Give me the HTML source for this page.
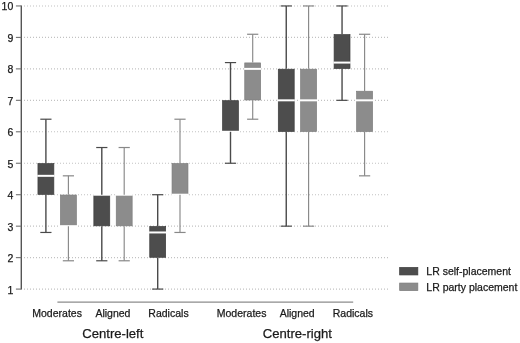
<!DOCTYPE html>
<html><head><meta charset="utf-8"><title>Box plot</title>
<style>html,body{margin:0;padding:0;background:#fff;overflow:hidden;}body{width:520px;height:343px;position:relative;font-family:"Liberation Sans",sans-serif;}</style>
</head><body>
<svg width="520" height="343" viewBox="0 0 520 343" style="position:absolute;left:0;top:0;will-change:transform;font-family:'Liberation Sans',sans-serif;">
<rect width="520" height="343" fill="#ffffff"/>
<line x1="24" x2="388.2" y1="289.09" y2="289.09" stroke="#c2c2c2" stroke-width="1.1" stroke-dasharray="1 2"/>
<line x1="24" x2="388.2" y1="257.63" y2="257.63" stroke="#c2c2c2" stroke-width="1.1" stroke-dasharray="1 2"/>
<line x1="24" x2="388.2" y1="226.17" y2="226.17" stroke="#c2c2c2" stroke-width="1.1" stroke-dasharray="1 2"/>
<line x1="24" x2="388.2" y1="194.71" y2="194.71" stroke="#c2c2c2" stroke-width="1.1" stroke-dasharray="1 2"/>
<line x1="24" x2="388.2" y1="163.25" y2="163.25" stroke="#c2c2c2" stroke-width="1.1" stroke-dasharray="1 2"/>
<line x1="24" x2="388.2" y1="131.79" y2="131.79" stroke="#c2c2c2" stroke-width="1.1" stroke-dasharray="1 2"/>
<line x1="24" x2="388.2" y1="100.33" y2="100.33" stroke="#c2c2c2" stroke-width="1.1" stroke-dasharray="1 2"/>
<line x1="24" x2="388.2" y1="68.87" y2="68.87" stroke="#c2c2c2" stroke-width="1.1" stroke-dasharray="1 2"/>
<line x1="24" x2="388.2" y1="37.41" y2="37.41" stroke="#c2c2c2" stroke-width="1.1" stroke-dasharray="1 2"/>
<line x1="24" x2="388.2" y1="5.95" y2="5.95" stroke="#c2c2c2" stroke-width="1.1" stroke-dasharray="1 2"/>
<line x1="21.3" x2="21.3" y1="5.45" y2="289.59" stroke="#555" stroke-width="1.4"/>
<line x1="15.9" x2="21.3" y1="289.09" y2="289.09" stroke="#707070" stroke-width="1.1"/>
<text x="13.3" y="293.59" font-size="10.5" text-anchor="end" fill="#1a1a1a" stroke="#1a1a1a" stroke-width="0.25">1</text>
<line x1="15.9" x2="21.3" y1="257.63" y2="257.63" stroke="#707070" stroke-width="1.1"/>
<text x="13.3" y="262.13" font-size="10.5" text-anchor="end" fill="#1a1a1a" stroke="#1a1a1a" stroke-width="0.25">2</text>
<line x1="15.9" x2="21.3" y1="226.17" y2="226.17" stroke="#707070" stroke-width="1.1"/>
<text x="13.3" y="230.67" font-size="10.5" text-anchor="end" fill="#1a1a1a" stroke="#1a1a1a" stroke-width="0.25">3</text>
<line x1="15.9" x2="21.3" y1="194.71" y2="194.71" stroke="#707070" stroke-width="1.1"/>
<text x="13.3" y="199.21" font-size="10.5" text-anchor="end" fill="#1a1a1a" stroke="#1a1a1a" stroke-width="0.25">4</text>
<line x1="15.9" x2="21.3" y1="163.25" y2="163.25" stroke="#707070" stroke-width="1.1"/>
<text x="13.3" y="167.75" font-size="10.5" text-anchor="end" fill="#1a1a1a" stroke="#1a1a1a" stroke-width="0.25">5</text>
<line x1="15.9" x2="21.3" y1="131.79" y2="131.79" stroke="#707070" stroke-width="1.1"/>
<text x="13.3" y="136.29" font-size="10.5" text-anchor="end" fill="#1a1a1a" stroke="#1a1a1a" stroke-width="0.25">6</text>
<line x1="15.9" x2="21.3" y1="100.33" y2="100.33" stroke="#707070" stroke-width="1.1"/>
<text x="13.3" y="104.83" font-size="10.5" text-anchor="end" fill="#1a1a1a" stroke="#1a1a1a" stroke-width="0.25">7</text>
<line x1="15.9" x2="21.3" y1="68.87" y2="68.87" stroke="#707070" stroke-width="1.1"/>
<text x="13.3" y="73.37" font-size="10.5" text-anchor="end" fill="#1a1a1a" stroke="#1a1a1a" stroke-width="0.25">8</text>
<line x1="15.9" x2="21.3" y1="37.41" y2="37.41" stroke="#707070" stroke-width="1.1"/>
<text x="13.3" y="41.91" font-size="10.5" text-anchor="end" fill="#1a1a1a" stroke="#1a1a1a" stroke-width="0.25">9</text>
<line x1="15.9" x2="21.3" y1="5.95" y2="5.95" stroke="#707070" stroke-width="1.1"/>
<text x="13.3" y="10.45" font-size="10.5" text-anchor="end" fill="#1a1a1a" stroke="#1a1a1a" stroke-width="0.25">10</text>
<rect x="37.95" y="163.60" width="15.90" height="30.76" fill="#4d4d4d" stroke="#3c3c3c" stroke-width="0.7"/>
<line x1="37.30" x2="54.50" y1="175.83" y2="175.83" stroke="#ffffff" stroke-width="2"/>
<line x1="45.9" x2="45.9" y1="119.21" y2="163.25" stroke="#4a4a4a" stroke-width="1.4"/>
<line x1="45.9" x2="45.9" y1="194.71" y2="232.46" stroke="#4a4a4a" stroke-width="1.4"/>
<line x1="40.3" x2="51.5" y1="119.21" y2="119.21" stroke="#4a4a4a" stroke-width="1.2"/>
<line x1="40.3" x2="51.5" y1="232.46" y2="232.46" stroke="#4a4a4a" stroke-width="1.2"/>
<rect x="60.45" y="195.06" width="15.90" height="30.76" fill="#8c8c8c" stroke="#7c7c7c" stroke-width="0.7"/>
<line x1="59.80" x2="77.00" y1="226.17" y2="226.17" stroke="#ffffff" stroke-width="2"/>
<line x1="68.4" x2="68.4" y1="175.83" y2="194.71" stroke="#888888" stroke-width="1.15"/>
<line x1="68.4" x2="68.4" y1="226.17" y2="260.78" stroke="#888888" stroke-width="1.15"/>
<line x1="62.800000000000004" x2="74.0" y1="175.83" y2="175.83" stroke="#888888" stroke-width="1.2"/>
<line x1="62.800000000000004" x2="74.0" y1="260.78" y2="260.78" stroke="#888888" stroke-width="1.2"/>
<rect x="93.85" y="195.06" width="15.90" height="30.76" fill="#4d4d4d" stroke="#3c3c3c" stroke-width="0.7"/>
<line x1="93.20" x2="110.40" y1="194.71" y2="194.71" stroke="#ffffff" stroke-width="2"/>
<line x1="101.8" x2="101.8" y1="147.52" y2="194.71" stroke="#4a4a4a" stroke-width="1.4"/>
<line x1="101.8" x2="101.8" y1="226.17" y2="260.78" stroke="#4a4a4a" stroke-width="1.4"/>
<line x1="96.2" x2="107.39999999999999" y1="147.52" y2="147.52" stroke="#4a4a4a" stroke-width="1.2"/>
<line x1="96.2" x2="107.39999999999999" y1="260.78" y2="260.78" stroke="#4a4a4a" stroke-width="1.2"/>
<rect x="116.25" y="195.06" width="15.90" height="30.76" fill="#8c8c8c" stroke="#7c7c7c" stroke-width="0.7"/>
<line x1="115.60" x2="132.80" y1="194.71" y2="194.71" stroke="#ffffff" stroke-width="2"/>
<line x1="124.2" x2="124.2" y1="147.52" y2="194.71" stroke="#888888" stroke-width="1.15"/>
<line x1="124.2" x2="124.2" y1="226.17" y2="260.78" stroke="#888888" stroke-width="1.15"/>
<line x1="118.60000000000001" x2="129.8" y1="147.52" y2="147.52" stroke="#888888" stroke-width="1.2"/>
<line x1="118.60000000000001" x2="129.8" y1="260.78" y2="260.78" stroke="#888888" stroke-width="1.2"/>
<rect x="149.75" y="226.52" width="15.90" height="30.76" fill="#4d4d4d" stroke="#3c3c3c" stroke-width="0.7"/>
<line x1="149.10" x2="166.30" y1="232.46" y2="232.46" stroke="#ffffff" stroke-width="2"/>
<line x1="157.7" x2="157.7" y1="194.71" y2="226.17" stroke="#4a4a4a" stroke-width="1.4"/>
<line x1="157.7" x2="157.7" y1="257.63" y2="289.09" stroke="#4a4a4a" stroke-width="1.4"/>
<line x1="152.1" x2="163.29999999999998" y1="194.71" y2="194.71" stroke="#4a4a4a" stroke-width="1.2"/>
<line x1="152.1" x2="163.29999999999998" y1="289.09" y2="289.09" stroke="#4a4a4a" stroke-width="1.2"/>
<rect x="172.05" y="163.60" width="15.90" height="30.76" fill="#8c8c8c" stroke="#7c7c7c" stroke-width="0.7"/>
<line x1="171.40" x2="188.60" y1="194.71" y2="194.71" stroke="#ffffff" stroke-width="2"/>
<line x1="180.0" x2="180.0" y1="119.21" y2="163.25" stroke="#888888" stroke-width="1.15"/>
<line x1="180.0" x2="180.0" y1="194.71" y2="232.46" stroke="#888888" stroke-width="1.15"/>
<line x1="174.4" x2="185.6" y1="119.21" y2="119.21" stroke="#888888" stroke-width="1.2"/>
<line x1="174.4" x2="185.6" y1="232.46" y2="232.46" stroke="#888888" stroke-width="1.2"/>
<rect x="222.55" y="100.68" width="15.90" height="30.76" fill="#4d4d4d" stroke="#3c3c3c" stroke-width="0.7"/>
<line x1="221.90" x2="239.10" y1="131.79" y2="131.79" stroke="#ffffff" stroke-width="2"/>
<line x1="230.5" x2="230.5" y1="62.58" y2="100.33" stroke="#4a4a4a" stroke-width="1.4"/>
<line x1="230.5" x2="230.5" y1="131.79" y2="163.25" stroke="#4a4a4a" stroke-width="1.4"/>
<line x1="224.9" x2="236.1" y1="62.58" y2="62.58" stroke="#4a4a4a" stroke-width="1.2"/>
<line x1="224.9" x2="236.1" y1="163.25" y2="163.25" stroke="#4a4a4a" stroke-width="1.2"/>
<rect x="244.75" y="62.93" width="15.90" height="37.05" fill="#8c8c8c" stroke="#7c7c7c" stroke-width="0.7"/>
<line x1="244.10" x2="261.30" y1="68.87" y2="68.87" stroke="#ffffff" stroke-width="2"/>
<line x1="252.7" x2="252.7" y1="34.26" y2="62.58" stroke="#888888" stroke-width="1.15"/>
<line x1="252.7" x2="252.7" y1="100.33" y2="119.21" stroke="#888888" stroke-width="1.15"/>
<line x1="247.1" x2="258.3" y1="34.26" y2="34.26" stroke="#888888" stroke-width="1.2"/>
<line x1="247.1" x2="258.3" y1="119.21" y2="119.21" stroke="#888888" stroke-width="1.2"/>
<rect x="278.30" y="69.22" width="15.90" height="62.22" fill="#4d4d4d" stroke="#3c3c3c" stroke-width="0.7"/>
<line x1="277.65" x2="294.85" y1="100.33" y2="100.33" stroke="#ffffff" stroke-width="2"/>
<line x1="286.25" x2="286.25" y1="5.95" y2="68.87" stroke="#4a4a4a" stroke-width="1.4"/>
<line x1="286.25" x2="286.25" y1="131.79" y2="226.17" stroke="#4a4a4a" stroke-width="1.4"/>
<line x1="280.65" x2="291.85" y1="5.95" y2="5.95" stroke="#4a4a4a" stroke-width="1.2"/>
<line x1="280.65" x2="291.85" y1="226.17" y2="226.17" stroke="#4a4a4a" stroke-width="1.2"/>
<rect x="300.65" y="69.22" width="15.90" height="62.22" fill="#8c8c8c" stroke="#7c7c7c" stroke-width="0.7"/>
<line x1="300.00" x2="317.20" y1="100.33" y2="100.33" stroke="#ffffff" stroke-width="2"/>
<line x1="308.6" x2="308.6" y1="5.95" y2="68.87" stroke="#888888" stroke-width="1.15"/>
<line x1="308.6" x2="308.6" y1="131.79" y2="226.17" stroke="#888888" stroke-width="1.15"/>
<line x1="303.0" x2="314.20000000000005" y1="5.95" y2="5.95" stroke="#888888" stroke-width="1.2"/>
<line x1="303.0" x2="314.20000000000005" y1="226.17" y2="226.17" stroke="#888888" stroke-width="1.2"/>
<rect x="334.10" y="34.61" width="15.90" height="33.91" fill="#4d4d4d" stroke="#3c3c3c" stroke-width="0.7"/>
<line x1="333.45" x2="350.65" y1="62.58" y2="62.58" stroke="#ffffff" stroke-width="2"/>
<line x1="342.05" x2="342.05" y1="5.95" y2="34.26" stroke="#4a4a4a" stroke-width="1.4"/>
<line x1="342.05" x2="342.05" y1="68.87" y2="100.33" stroke="#4a4a4a" stroke-width="1.4"/>
<line x1="336.45" x2="347.65000000000003" y1="5.95" y2="5.95" stroke="#4a4a4a" stroke-width="1.2"/>
<line x1="336.45" x2="347.65000000000003" y1="100.33" y2="100.33" stroke="#4a4a4a" stroke-width="1.2"/>
<rect x="356.65" y="91.24" width="15.90" height="40.20" fill="#8c8c8c" stroke="#7c7c7c" stroke-width="0.7"/>
<line x1="356.00" x2="373.20" y1="100.33" y2="100.33" stroke="#ffffff" stroke-width="2"/>
<line x1="364.6" x2="364.6" y1="34.26" y2="90.89" stroke="#888888" stroke-width="1.15"/>
<line x1="364.6" x2="364.6" y1="131.79" y2="175.83" stroke="#888888" stroke-width="1.15"/>
<line x1="359.0" x2="370.20000000000005" y1="34.26" y2="34.26" stroke="#888888" stroke-width="1.2"/>
<line x1="359.0" x2="370.20000000000005" y1="175.83" y2="175.83" stroke="#888888" stroke-width="1.2"/>
<line x1="57.4" x2="353.2" y1="302.1" y2="302.1" stroke="#8c8c8c" stroke-width="1.3"/>
<text x="57.1" y="317.3" font-size="10.5" text-anchor="middle" fill="#1a1a1a" stroke="#1a1a1a" stroke-width="0.25">Moderates</text>
<text x="112.9" y="317.3" font-size="10.5" text-anchor="middle" fill="#1a1a1a" stroke="#1a1a1a" stroke-width="0.25">Aligned</text>
<text x="168.5" y="317.3" font-size="10.5" text-anchor="middle" fill="#1a1a1a" stroke="#1a1a1a" stroke-width="0.25">Radicals</text>
<text x="241.6" y="317.3" font-size="10.5" text-anchor="middle" fill="#1a1a1a" stroke="#1a1a1a" stroke-width="0.25">Moderates</text>
<text x="297.2" y="317.3" font-size="10.5" text-anchor="middle" fill="#1a1a1a" stroke="#1a1a1a" stroke-width="0.25">Aligned</text>
<text x="352.9" y="317.3" font-size="10.5" text-anchor="middle" fill="#1a1a1a" stroke="#1a1a1a" stroke-width="0.25">Radicals</text>
<text x="112.8" y="338" font-size="13.1" text-anchor="middle" fill="#1a1a1a" stroke="#1a1a1a" stroke-width="0.25">Centre-left</text>
<text x="297.3" y="338" font-size="13.1" text-anchor="middle" fill="#1a1a1a" stroke="#1a1a1a" stroke-width="0.25">Centre-right</text>
<rect x="399.65" y="267.45" width="18.2" height="7.5" fill="#4d4d4d" stroke="#3c3c3c" stroke-width="0.7"/>
<rect x="399.65" y="283.05" width="18.2" height="7.6" fill="#8c8c8c" stroke="#7c7c7c" stroke-width="0.7"/>
<text x="426.3" y="275" font-size="10.5" fill="#1a1a1a" stroke="#1a1a1a" stroke-width="0.25">LR self-placement</text>
<text x="426.3" y="290.6" font-size="10.5" fill="#1a1a1a" stroke="#1a1a1a" stroke-width="0.25">LR party placement</text>
</svg>
</body></html>
